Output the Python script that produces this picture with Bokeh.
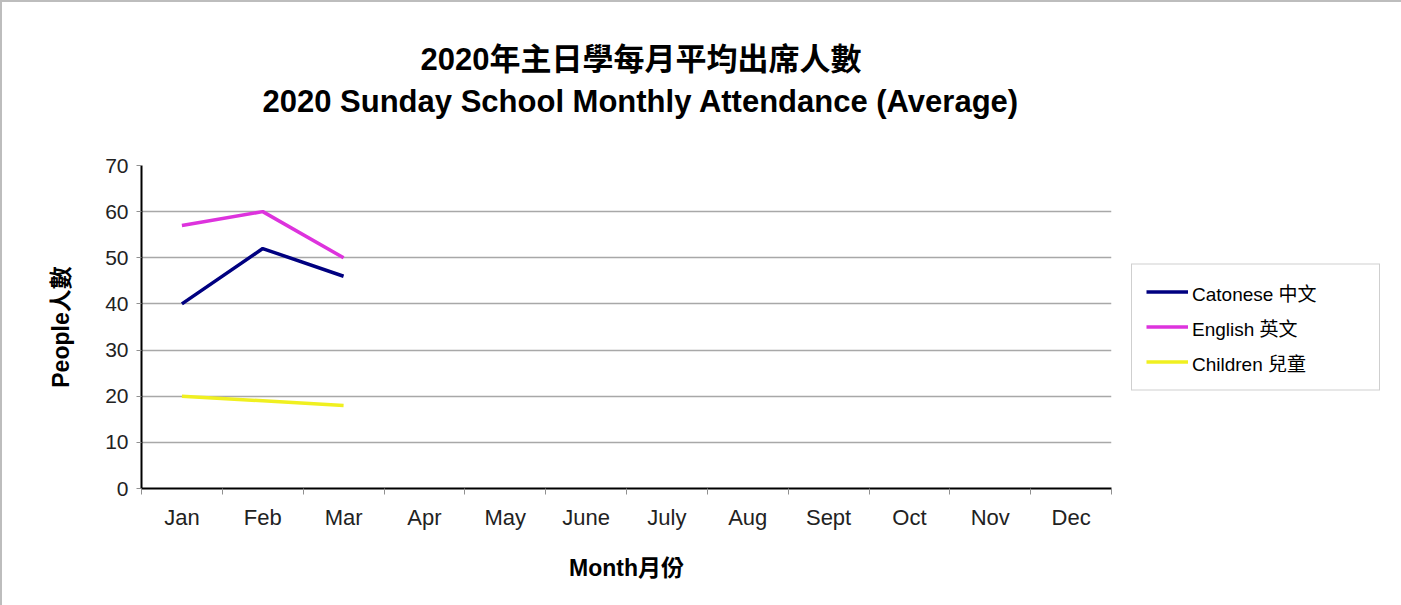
from bokeh.plotting import figure
from bokeh.models import (Range1d, FixedTicker, Legend, LegendItem, Title)
from bokeh.embed import file_html
from bokeh.resources import INLINE

months = ["Jan", "Feb", "Mar", "Apr", "May", "June", "July", "Aug", "Sept", "Oct", "Nov", "Dec"]
series_names = ["Catonese 中文", "English 英文", "Children 兒童"]
cantonese = [40, 52, 46]
english = [57, 60, 50]
children = [20, 19, 18]
colors = ["#000080", "#dd33dd", "#f0f020"]
y_ticks = [0, 10, 20, 30, 40, 50, 60, 70]

FONT = "Liberation Sans, Noto Sans CJK TC"

p = figure(frame_width=970, frame_height=323, output_backend="svg", toolbar_location=None,
           x_range=Range1d(0, len(months)), y_range=Range1d(0, 70))
p.min_border_left = 139
p.min_border_right = 20
p.min_border_top = 163
p.min_border_bottom = 117
p.outline_line_color = None
p.background_fill_color = "white"
p.border_fill_color = "white"
p.styles = {"border-top": "2px solid #bdbdbd", "border-left": "2px solid #bdbdbd",
            "border-right": "2px solid #bdbdbd"}

# positions: category centres
cx = [i + 0.5 for i in range(len(months))]

renderers = []
for vals, col in zip([cantonese, english, children], colors):
    r = p.line(cx[:len(vals)], vals, line_color=col, line_width=3.5)
    renderers.append(r)

# x axis
p.xaxis.ticker = FixedTicker(ticks=cx, minor_ticks=list(range(len(months) + 1)))
p.xaxis.major_label_overrides = {c: m for c, m in zip(cx, months)}
p.xaxis.major_tick_out = 0
p.xaxis.major_tick_in = 0
p.xaxis.minor_tick_out = 6
p.xaxis.minor_tick_in = 0
p.xaxis.minor_tick_line_color = "#909090"
p.xaxis.axis_line_color = "black"
p.xaxis.axis_line_width = 2
p.xaxis.major_label_text_font = FONT
p.xaxis.major_label_text_font_size = "22px"
p.xaxis.major_label_text_color = "#222222"
p.xaxis.major_label_standoff = 10
p.xaxis.axis_label = "Month月份"
p.xaxis.axis_label_text_font = FONT
p.xaxis.axis_label_text_font_size = "23px"
p.xaxis.axis_label_text_font_style = "bold"
p.xaxis.axis_label_text_color = "black"
p.xaxis.axis_label_standoff = 22

# y axis
p.yaxis.ticker = FixedTicker(ticks=y_ticks)
p.yaxis.minor_tick_line_color = None
p.yaxis.major_tick_out = 5
p.yaxis.major_tick_in = 0
p.yaxis.major_tick_line_color = "#909090"
p.yaxis.axis_line_color = "black"
p.yaxis.axis_line_width = 2
p.yaxis.major_label_text_font = FONT
p.yaxis.major_label_text_font_size = "21px"
p.yaxis.major_label_text_color = "#222222"
p.yaxis.major_label_standoff = 8
p.yaxis.axis_label = "People人數"
p.yaxis.axis_label_text_font = FONT
p.yaxis.axis_label_text_font_size = "23px"
p.yaxis.axis_label_text_font_style = "bold"
p.yaxis.axis_label_text_color = "black"
p.yaxis.axis_label_standoff = 28

p.xgrid.grid_line_color = None
p.ygrid.ticker = FixedTicker(ticks=y_ticks)
p.ygrid.grid_line_color = "#a8a8a8"
p.ygrid.grid_line_width = 1.5

# titles (first added sits nearest the plot); a blank spacer keeps the gap under the titles
p.add_layout(Title(text=" ", text_font_size="1px", standoff=44), "above")
p.add_layout(Title(text="2020 Sunday School Monthly Attendance (Average)", align="left",
                   text_font=FONT, text_font_size="31px", text_font_style="bold",
                   text_color="black", standoff=0, offset=121), "above")
p.add_layout(Title(text="2020年主日學每月平均出席人數", align="left",
                   text_font=FONT, text_font_size="31px", text_font_style="bold",
                   text_color="black", standoff=10, offset=279), "above")

legend = Legend(items=[LegendItem(label=n, renderers=[r]) for n, r in zip(series_names, renderers)],
                location="center_left", margin=20, padding=14, spacing=8,
                glyph_width=42, glyph_height=20, label_standoff=4, label_width=173,
                label_text_font=FONT, label_text_font_size="19px", label_text_color="black",
                border_line_color="#a0a0a0", border_line_width=1.5)
p.add_layout(legend, "right")

open("out.html", "w").write(file_html(p, INLINE))
